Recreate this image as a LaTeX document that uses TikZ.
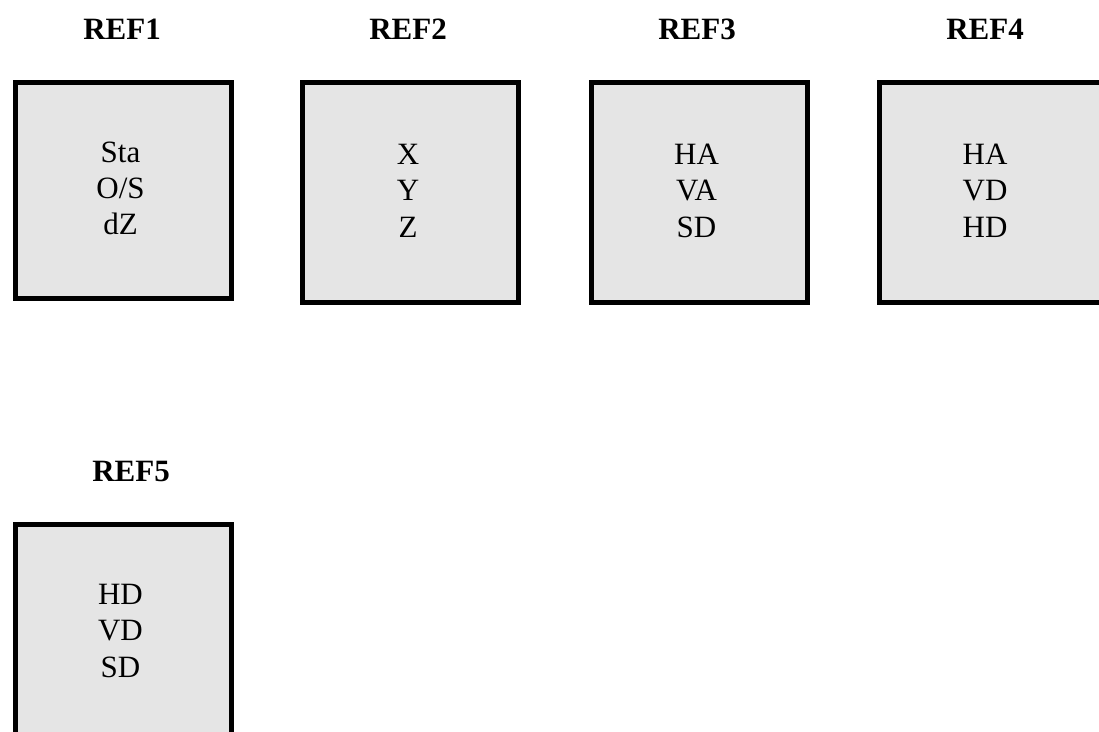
\documentclass[tikz,border=0pt]{standalone}
\usepackage{fontspec}
\setmainfont{Liberation Serif}
\definecolor{boxgray}{HTML}{E5E5E5}
\begin{document}
\begin{tikzpicture}[x=1pt,y=-1pt,
  box/.style={draw=black,line width=5pt,fill=boxgray,inner sep=0pt,anchor=north west,minimum width=216pt},
  ttl/.style={font=\fontsize{31}{36}\selectfont\bfseries,anchor=base,inner sep=0pt},
  lbl/.style={font=\fontsize{31}{36}\selectfont,anchor=base,inner sep=0pt}]
\useasboundingbox (0,0) rectangle (1099,731);
% boxes
\node[box,minimum height=216pt] (b1) at (12.5,79.5) {};
\node[box,minimum height=220pt] (b2) at (299.5,79.5) {};
\node[box,minimum height=220pt] (b3) at (588.5,79.5) {};
\node[box,minimum height=220pt,minimum width=250pt] (b4) at (876.5,79.5) {};
\node[box,minimum height=260pt] (b5) at (12.5,521.5) {};
% titles
\node[ttl] (t1) at (122,39) {REF1};
\node[ttl] (t2) at (408,39) {REF2};
\node[ttl] (t3) at (697,39) {REF3};
\node[ttl] (t4) at (985,39) {REF4};
\node[ttl] (t5) at (131,481) {REF5};
% box 1
\node[lbl] (b1a) at (120.5,162) {Sta};
\node[lbl] (b1b) at (120.5,198) {O/S};
\node[lbl] (b1c) at (120.5,234) {dZ};
% box 2
\node[lbl] (b2a) at (408,164) {X};
\node[lbl] (b2b) at (408,200.5) {Y};
\node[lbl] (b2c) at (408,237) {Z};
% box 3
\node[lbl] (b3a) at (696.5,164) {HA};
\node[lbl] (b3b) at (696.5,200.5) {VA};
\node[lbl] (b3c) at (696.5,237) {SD};
% box 4
\node[lbl] (b4a) at (985,164) {HA};
\node[lbl] (b4b) at (985,200.5) {VD};
\node[lbl] (b4c) at (985,237) {HD};
% box 5
\node[lbl] (b5a) at (120.5,604) {HD};
\node[lbl] (b5b) at (120.5,640) {VD};
\node[lbl] (b5c) at (120.5,677) {SD};
\end{tikzpicture}
\end{document}
